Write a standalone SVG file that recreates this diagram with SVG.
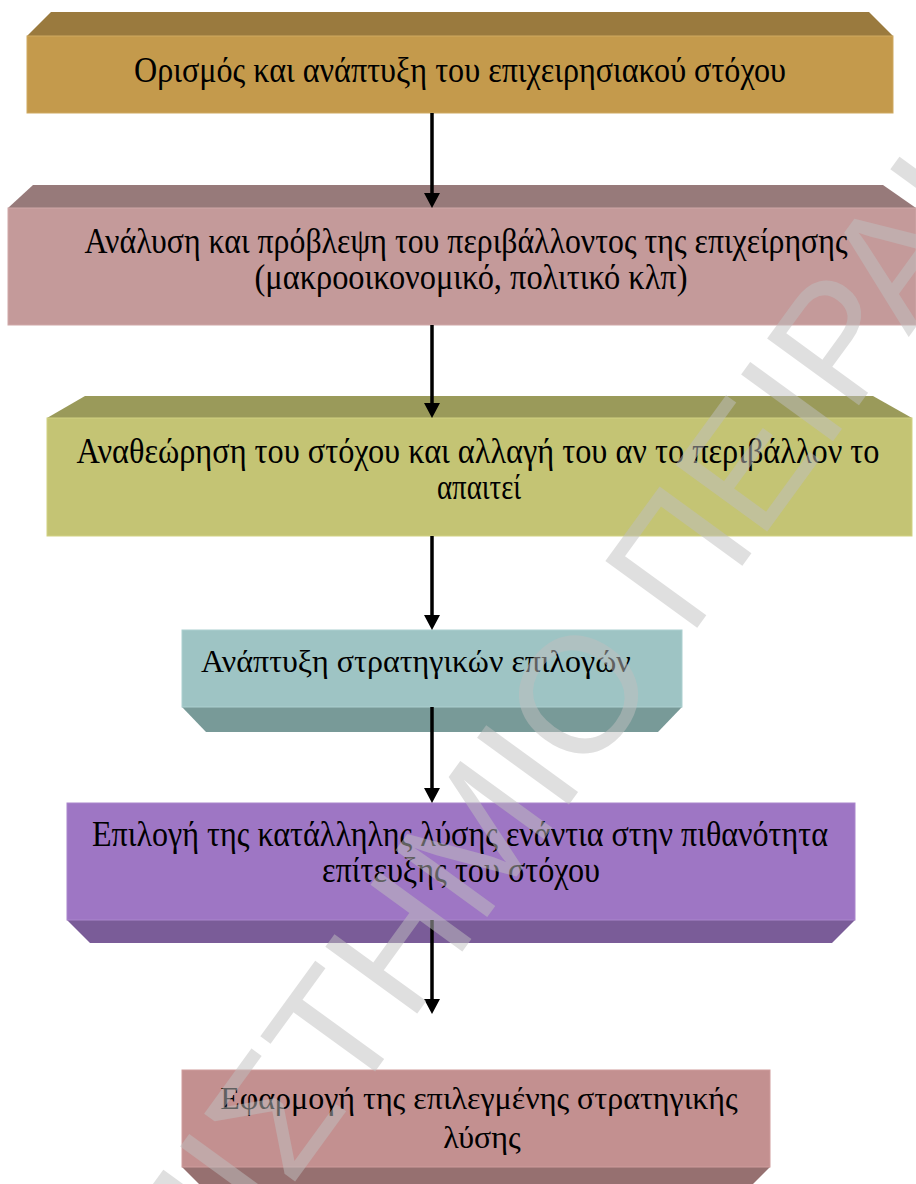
<svg xmlns="http://www.w3.org/2000/svg" width="916" height="1184" viewBox="0 0 916 1184">
  <style>
    .lbl { font-family: "Liberation Serif", "Times New Roman", serif; font-size: 32px; fill: #000; }
    .tall { font-size: 36px; }
    .mid { text-anchor: middle; }
    .face { stroke-width: 1; }
    .link { stroke: #000; stroke-width: 3.5; fill: none; marker-end: url(#head); }
    .mark { font-family: "Liberation Sans", Arial, sans-serif; font-size: 165px; fill: #c0c0c0; opacity: 0.5; }
  </style>
  <defs>
    <marker id="head" markerUnits="userSpaceOnUse" markerWidth="16" markerHeight="16" refX="4" refY="8" orient="auto">
      <path d="M0,0 L15,8 L0,16 Z" fill="#000"/>
    </marker>
  </defs>
  <rect width="916" height="1184" fill="#fff"/>

  <!-- step 1: goal definition -->
  <g id="goal">
    <polygon points="27,36 51,12 869,12 893,36" fill="#9a7a3e"/>
    <rect class="face" x="27" y="36" width="866" height="77" fill="#c49a4c" stroke="#cfa960"/>
    <text class="lbl tall mid" x="460" y="82" textLength="652" lengthAdjust="spacingAndGlyphs">Ορισμός και ανάπτυξη του επιχειρησιακού στόχου</text>
  </g>

  <!-- step 2: environment analysis -->
  <g id="environment">
    <polygon points="8,208 33,185 883,185 916,208" fill="#977a7a"/>
    <rect class="face" x="8" y="208" width="908" height="117" fill="#c49a9a" stroke="#d0a8a8"/>
    <text class="lbl tall mid" x="466" y="253" textLength="763" lengthAdjust="spacingAndGlyphs">Ανάλυση και πρόβλεψη του περιβάλλοντος της επιχείρησης</text>
    <text class="lbl tall mid" x="471" y="289" textLength="433" lengthAdjust="spacingAndGlyphs">(μακροοικονομικό, πολιτικό κλπ)</text>
  </g>

  <!-- step 3: goal review -->
  <g id="review">
    <polygon points="47,418 85,396 873,396 912,418" fill="#9a9a5a"/>
    <rect class="face" x="47" y="418" width="865" height="118" fill="#c4c474" stroke="#d2d282"/>
    <text class="lbl tall mid" x="478" y="463" textLength="803" lengthAdjust="spacingAndGlyphs">Αναθεώρηση του στόχου και αλλαγή του αν το περιβάλλον το</text>
    <text class="lbl tall mid" x="479" y="499" textLength="84" lengthAdjust="spacingAndGlyphs">απαιτεί</text>
  </g>

  <!-- step 4: strategic options -->
  <g id="options">
    <polygon points="182,707 682,707 658,732 206,732" fill="#789a98"/>
    <rect class="face" x="182" y="630" width="500" height="77" fill="#9ec4c4" stroke="#acd0d0"/>
    <text class="lbl" x="201" y="672">Ανάπτυξη στρατηγικών επιλογών</text>
  </g>

  <!-- step 5: choice of solution -->
  <g id="choice">
    <polygon points="67,920 855,920 832,943 90,943" fill="#7a5c98"/>
    <rect class="face" x="67" y="803" width="788" height="117" fill="#9e76c4" stroke="#aa86cc"/>
    <text class="lbl tall mid" x="460" y="846" textLength="736" lengthAdjust="spacingAndGlyphs">Επιλογή της κατάλληλης λύσης ενάντια στην πιθανότητα</text>
    <text class="lbl tall mid" x="461" y="882" textLength="278" lengthAdjust="spacingAndGlyphs">επίτευξης του στόχου</text>
  </g>

  <!-- step 6: implementation -->
  <g id="implementation">
    <polygon points="182,1167 770,1167 752,1185 200,1185" fill="#967070"/>
    <rect class="face" x="182" y="1070" width="588" height="97" fill="#c39090" stroke="#cf9c9c"/>
    <text class="lbl mid" x="479" y="1109">Εφαρμογή της επιλεγμένης στρατηγικής</text>
    <text class="lbl mid" x="482" y="1148">λύσης</text>
  </g>

  <g id="connectors">
    <line class="link" x1="432" y1="113" x2="432" y2="197"/>
    <line class="link" x1="432" y1="325" x2="432" y2="407"/>
    <line class="link" x1="432" y1="536" x2="432" y2="619"/>
    <line class="link" x1="432" y1="707" x2="432" y2="792"/>
    <line class="link" x1="432" y1="920" x2="432" y2="1003"/>
  </g>

  <!-- diagonal watermark over the page -->
  <text class="mark" transform="translate(577,693) rotate(-54)" x="-1193" y="59">ΠΑΝΕΠΙΣΤΗΜΙΟ ΠΕΙΡΑΙΩΣ</text>
</svg>
